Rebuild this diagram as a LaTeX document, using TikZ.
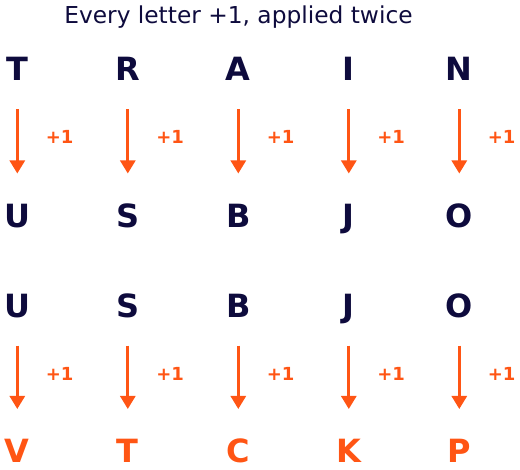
\documentclass[tikz,border=0pt]{standalone}
\usepackage{fontspec}
\setmainfont{DejaVu Sans}
\usetikzlibrary{arrows.meta}
\definecolor{navy}{HTML}{0E0B3D}
\definecolor{orng}{HTML}{FF5514}
\tikzset{
  letter/.style={inner sep=0pt, anchor=base, text height=23.3pt, text depth=0pt, font=\fontsize{32}{32}\selectfont\bfseries},
  srcletter/.style={letter, text=navy},
  outletter/.style={letter, text=orng},
  plusone/.style={inner sep=0pt, text=orng, font=\fontsize{18}{18}\selectfont\bfseries},
  arr/.style={draw=orng, line width=2.7pt, -{Triangle[width=15pt,length=13pt]}, shorten <=28pt, shorten >=30.5pt},
  title/.style={inner sep=0pt, anchor=base, text=navy, font=\fontsize{23.3}{23.3}\selectfont}
}
\begin{document}
\begin{tikzpicture}[x=1pt,y=-1pt]
\useasboundingbox (0,0) rectangle (520,470);
\node[title] (ttl) at (238.5,24) {Every letter +1, applied twice};
% first block
\foreach \i/\a/\b in {0/T/U,1/R/S,2/A/B,3/I/J,4/N/O} {
  \node[srcletter] (a\i) at ({17.3+110.5*\i},81) {\a};
  \node[srcletter] (b\i) at ({17.3+110.5*\i},227.5) {\b};
  \draw[arr] (a\i) -- (b\i);
  \node[plusone] (p\i) at ({59.7+110.5*\i},137) {+1};
}
% second block
\foreach \i/\a/\b in {0/U/V,1/S/T,2/B/C,3/J/K,4/O/P} {
  \node[srcletter] (c\i) at ({17.3+110.5*\i},317.5) {\a};
  \node[outletter] (d\i) at ({17.3+110.5*\i},463) {\b};
  \draw[arr] (c\i) -- (d\i);
  \node[plusone] (q\i) at ({59.7+110.5*\i},374) {+1};
}
\end{tikzpicture}
\end{document}
